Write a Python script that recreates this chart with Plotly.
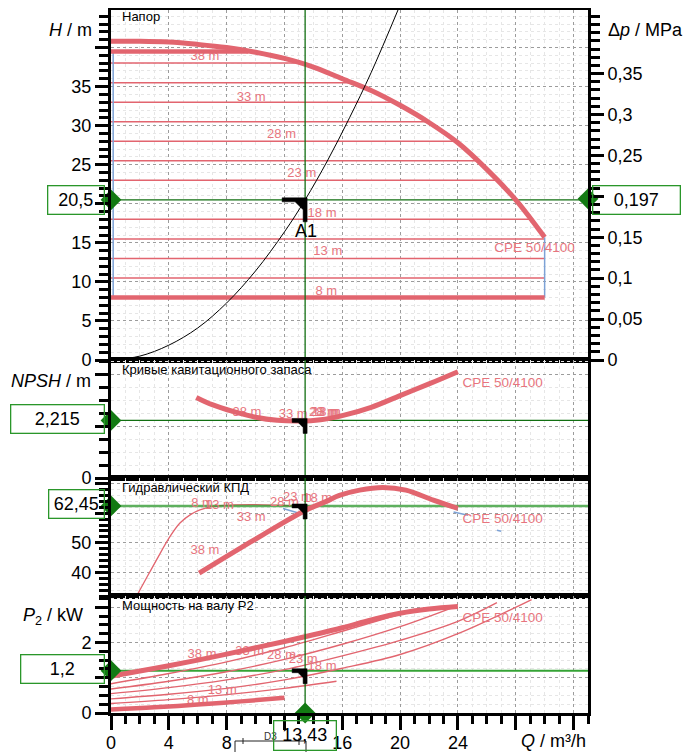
import plotly.graph_objects as go

# The page body adds an 8 px margin, so the figure is drawn 8 px smaller and
# all reference pixel positions are shifted by that offset.
PAGE_OFF = 8
FIG_W, FIG_H = 693 - PAGE_OFF, 752 - PAGE_OFF
FONT = "Arial, Liberation Sans, sans-serif"
PINK = "#e2656f"
PINK_TXT = "#e7757e"
BLUE = "#7da2d6"
GREEN_DARK = "#116f11"
GREEN_BOX = "#2a962a"

# ---------------- data ----------------
Q_OP, H_OP, DP_OP, NPSH_OP, ETA_OP, P_OP = 13.43, 20.5, 0.197, 2.215, 62.45, 1.2
MPA_PER_M = 0.009548          # Δp axis scale relative to H axis

# head: maximum curve
q_hmax = [0, 2, 4, 6, 8, 10, 12, 14, 16, 18, 20, 22, 24, 26, 28, 30]
h_hmax = [40.8, 40.8, 40.7, 40.4, 40.0, 39.4, 38.6, 37.5, 36.0, 34.5, 32.6, 30.4, 27.8, 24.4, 20.5, 15.7]
# head: upper thick constant line
h_top_line = 39.5
q_top_line_end = 9.5
# head: constant-pressure set points and where they end
h_set = [38, 35.5, 33, 30.5, 28, 25.5, 23, 18, 15.5, 13, 10.5]
q_set_end = [13.2, 16.6, 19.7, 21.9, 23.8, 25.3, 26.7, 29.0, 30, 30, 30]
h_min_line = 8
q_min_end = 30
# head labels
h_lab_text = ["38 m", "33 m", "28 m", "23 m", "18 m", "13 m", "8 m"]
h_lab_q = [6.5, 9.7, 11.8, 13.2, 14.6, 15.0, 14.9]
h_lab_h = [38.8, 33.6, 28.8, 23.8, 18.7, 13.8, 8.7]
# system curve
q_sys = [0, 2, 4, 6, 8, 10, 12, 13.43, 15, 16.5, 18, 19.9]
h_sys = [0, 0.5, 1.9, 4.1, 7.3, 11.4, 16.4, 20.5, 25.6, 31.0, 36.8, 45.0]

# NPSH
q_npsh = [5.9, 7, 8.5, 10, 11.5, 13, 14.5, 16, 18, 20, 22, 24]
npsh = [3.10, 2.82, 2.55, 2.34, 2.22, 2.19, 2.24, 2.40, 2.72, 3.17, 3.62, 4.09]
npsh_lab_text = ["38 m", "33 m", "28 m", "23 m", "18 m"]
npsh_lab_q = [9.4, 12.6, 14.7, 14.8, 14.9]
npsh_lab_v = [2.52, 2.45, 2.51, 2.51, 2.51]

# efficiency
q_eta_max = [6.1, 7.8, 10.5, 13.3, 14.9, 15.8, 17.2, 18.8, 20.4, 22.3, 24]
eta_max = [39.7, 44.8, 52.7, 60.6, 64.0, 66.0, 67.8, 68.7, 67.8, 64.4, 61.6]
q_eta_thin = [1.77, 2.5, 3.15, 4.0, 4.77, 5.5, 6.15, 7.07, 8.5, 10, 11.5, 12.5, 13.9]
eta_thin = [32, 38.5, 44.2, 51.5, 56.7, 59.5, 61.1, 62.3, 62.8, 62.9, 62.7, 62.5, 62.3]
eta_blue_segments = [([11.9, 13.2], [61.6, 59.7]), ([23.7, 24.7], [60.4, 59.3]), ([26.7, 27.0], [54.2, 53.9])]
eta_lab_text = ["38 m", "8 m", "13 m", "33 m", "28 m", "23 m", "18 m"]
eta_lab_q = [6.5, 6.3, 7.5, 9.7, 12.0, 12.9, 14.3]
eta_lab_v = [47.3, 63.1, 62.6, 58.6, 63.6, 65.3, 64.9]

# power P2
q_pmax = [0, 2, 4, 6, 8, 10, 12, 14, 16, 18, 20, 22, 24]
p_max = [1.04, 1.19, 1.34, 1.50, 1.67, 1.85, 2.03, 2.22, 2.42, 2.64, 2.83, 2.95, 3.02]
q_pmin = [0, 3, 6, 9, 12]
p_min = [0.10, 0.16, 0.24, 0.33, 0.43]
p_curves_q = [
    [0, 4, 8, 12, 16, 19.8],
    [0, 4, 8, 12, 16, 20, 23.5],
    [0, 4, 8, 12, 16, 20, 24, 26.7],
    [0, 4, 8, 12, 16, 20, 24, 29.1],
    [0, 4, 8, 12, 15.6],
]
p_curves_v = [
    [0.83, 1.12, 1.45, 1.85, 2.32, 2.78],
    [0.68, 0.90, 1.17, 1.52, 1.95, 2.45, 2.97],
    [0.55, 0.72, 0.94, 1.23, 1.62, 2.06, 2.60, 3.13],
    [0.40, 0.53, 0.70, 0.94, 1.27, 1.66, 2.25, 3.22],
    [0.27, 0.38, 0.52, 0.70, 0.90],
]
p_lab_text = ["38 m", "33 m", "28 m", "23 m", "18 m", "13 m", "8 m"]
p_lab_q = [6.3, 9.6, 11.8, 13.3, 14.6, 7.7, 6.0]
p_lab_v = [1.66, 1.75, 1.63, 1.52, 1.31, 0.62, 0.36]

# series name labels ("CPE 50/4100") per panel: (Q, value)
name_lab = {"head": (29.3, 14.3), "npsh": (27.1, 3.65), "eta": (27.1, 57.7), "p": (27.1, 2.69)}
SERIES_NAME = "CPE 50/4100"

# axis ranges / ticks
Q_RANGE = [0, 33]
H_RANGE = [0, 44.8]
NPSH_RANGE = [0, 4.54]
ETA_RANGE = [32, 71.9]
P_RANGE = [0, 3.32]
x_ticks = [0, 4, 8, 12, 16, 20, 24, 28, 32]
x_ticktext = ["0", "4", "8", "", "16", "20", "24", "", ""]
h_ticks = [0, 5, 10, 15, 20, 25, 30, 35, 40]
h_ticktext = ["0", "5", "10", "15", "", "25", "30", "35", ""]
dp_ticks = [0, 0.05, 0.1, 0.15, 0.2, 0.25, 0.3, 0.35]
dp_ticktext = ["0", "0,05", "0,1", "0,15", "", "0,25", "0,3", "0,35"]
npsh_ticks = [0, 2, 4]
npsh_ticktext = ["0", "", ""]
eta_ticks = [40, 50, 60, 70]
eta_ticktext = ["40", "50", "", ""]
p_ticks = [0, 1, 2, 3]
p_ticktext = ["0", "", "2", ""]

# ---------------- layout geometry (screen pixels of the reference) ----------------
def px(x):
    return (x - PAGE_OFF) / FIG_W


def py(y):
    return 1 - (y - PAGE_OFF) / FIG_H


X0, X1 = px(111), px(588)
PANELS = [(10, 360), (360, 478), (478, 596), (596, 713)]
DOMS = [[py(b), py(t)] for t, b in PANELS]

fig = go.Figure()


def add_line(xs, ys, xa, ya, color=PINK, width=1.4, shape="spline"):
    fig.add_trace(go.Scatter(x=xs, y=ys, xaxis=xa, yaxis=ya, mode="lines",
                             line=dict(color=color, width=width, shape=shape),
                             hoverinfo="skip", showlegend=False))


def add_text(xs, ys, texts, xa, ya, size=13, color=PINK_TXT):
    fig.add_trace(go.Scatter(x=xs, y=ys, xaxis=xa, yaxis=ya, mode="text", text=texts,
                             textfont=dict(size=size, color=color, family=FONT),
                             textposition="middle center", hoverinfo="skip",
                             showlegend=False, cliponaxis=False))


def add_diamond(xs, ys, xa, ya):
    fig.add_trace(go.Scatter(x=xs, y=ys, xaxis=xa, yaxis=ya, mode="markers",
                             marker=dict(symbol="diamond", size=16, color="#137a13"),
                             cliponaxis=False, hoverinfo="skip", showlegend=False))


# ---------- Panel 1: head ----------
add_line(Q_RANGE, [H_OP, H_OP], "x", "y", GREEN_DARK, 1.3, "linear")
for hs, qe in zip(h_set, q_set_end):
    add_line([0, qe], [hs, hs], "x", "y", PINK, 1.5, "linear")
add_line([0.15, 0.15], [h_min_line, h_top_line], "x", "y", BLUE, 1.5, "linear")
add_line([q_min_end, q_min_end], [h_min_line, h_hmax[-1]], "x", "y", BLUE, 1.5, "linear")
add_text(h_lab_q, h_lab_h, h_lab_text, "x", "y")
add_text([name_lab["head"][0]], [name_lab["head"][1]], [SERIES_NAME], "x", "y", 13.5)
add_line([0, q_top_line_end], [h_top_line, h_top_line], "x", "y", PINK, 4.5, "linear")
add_line(q_hmax, h_hmax, "x", "y", PINK, 5)
add_line([0, q_min_end], [h_min_line, h_min_line], "x", "y", PINK, 4.5, "linear")
add_line(q_sys, h_sys, "x", "y", "black", 1, "spline")
add_line([Q_OP, Q_OP], H_RANGE, "x", "y", GREEN_DARK, 1.3, "linear")
add_diamond([0], [H_OP], "x", "y")
add_diamond([Q_RANGE[1]], [DP_OP], "x", "y2")

# ---------- Panel 2: NPSH ----------
add_line(Q_RANGE, [NPSH_OP, NPSH_OP], "x2", "y3", GREEN_DARK, 1.3, "linear")
add_text(npsh_lab_q, npsh_lab_v, npsh_lab_text, "x2", "y3")
add_line(q_npsh, npsh, "x2", "y3", PINK, 5)
add_text([name_lab["npsh"][0]], [name_lab["npsh"][1]], [SERIES_NAME], "x2", "y3", 13.5)
add_line([Q_OP, Q_OP], NPSH_RANGE, "x2", "y3", GREEN_DARK, 1.3, "linear")
add_diamond([0], [NPSH_OP], "x2", "y3")

# ---------- Panel 3: efficiency ----------
add_line(q_eta_thin, eta_thin, "x3", "y4", PINK, 1.3)
add_line(Q_RANGE, [ETA_OP, ETA_OP], "x3", "y4", "rgba(40,150,40,0.75)", 2.5, "linear")
for bq, bv in eta_blue_segments:
    add_line(bq, bv, "x3", "y4", BLUE, 1.5, "linear")
add_text(eta_lab_q, eta_lab_v, eta_lab_text, "x3", "y4")
add_line(q_eta_max, eta_max, "x3", "y4", PINK, 5)
add_text([name_lab["eta"][0]], [name_lab["eta"][1]], [SERIES_NAME], "x3", "y4", 13.5)
add_line([Q_OP, Q_OP], ETA_RANGE, "x3", "y4", GREEN_DARK, 1.3, "linear")
add_diamond([0], [ETA_OP], "x3", "y4")

# ---------- Panel 4: power ----------
add_line(Q_RANGE, [P_OP, P_OP], "x4", "y5", "#35a335", 2, "linear")
for cq, cv in zip(p_curves_q, p_curves_v):
    add_line(cq, cv, "x4", "y5", PINK, 1.4)
add_text(p_lab_q, p_lab_v, p_lab_text, "x4", "y5")
add_line(q_pmax, p_max, "x4", "y5", PINK, 5)
add_line(q_pmin, p_min, "x4", "y5", PINK, 4.5)
add_text([name_lab["p"][0]], [name_lab["p"][1]], [SERIES_NAME], "x4", "y5", 13.5)
add_line([Q_OP, Q_OP], P_RANGE, "x4", "y5", GREEN_DARK, 1.3, "linear")
add_diamond([0, Q_OP], [P_OP, 0], "x4", "y5")

# ---------------- axes ----------------
TICKFONT = dict(size=18, color="black", family=FONT)


def xaxis(anchor, show):
    d = dict(range=Q_RANGE, domain=[X0, X1], anchor=anchor, automargin=False,
             showgrid=True, gridcolor="#9c9c9c", griddash="dot", gridwidth=1,
             tickmode="array", tickvals=x_ticks, ticktext=x_ticktext,
             showline=True, linecolor="black", linewidth=3, mirror=True, zeroline=False,
             tickfont=TICKFONT,
             minor=dict(tickmode="linear", tick0=0, dtick=1, showgrid=True,
                        gridcolor="#e6e6e6", gridwidth=1,
                        ticks="outside" if show else "", ticklen=8, tickwidth=3, tickcolor="black"))
    if show:
        d.update(ticks="outside", ticklen=14, tickwidth=3, tickcolor="black", showticklabels=True,
                 ticklabelstandoff=-3)
    else:
        d.update(ticks="", showticklabels=False)
    return d


def yaxis(rng, dom, tv, tt, mdt, anchor):
    return dict(range=rng, domain=dom, anchor=anchor, automargin=False,
                showgrid=True, gridcolor="#9c9c9c", griddash="dot", gridwidth=1,
                tickmode="array", tickvals=tv, ticktext=tt,
                showline=True, linecolor="black", linewidth=3, mirror=True, zeroline=False,
                ticks="outside", ticklen=13, tickwidth=3, tickcolor="black", tickfont=TICKFONT,
                minor=dict(tickmode="linear", tick0=rng[0], dtick=mdt, showgrid=True,
                           gridcolor="#e6e6e6", gridwidth=1,
                           ticks="outside", ticklen=9, tickwidth=3, tickcolor="black"))


fig.update_layout(
    template="none",
    width=FIG_W, height=FIG_H,
    margin=dict(l=0, r=0, t=0, b=0, pad=0),
    paper_bgcolor="white", plot_bgcolor="white",
    showlegend=False,
    font=dict(family=FONT, color="black"),
    xaxis=xaxis("y", False),
    xaxis2=xaxis("y3", False),
    xaxis3=xaxis("y4", False),
    xaxis4=xaxis("y5", True),
    yaxis=yaxis(H_RANGE, DOMS[0], h_ticks, h_ticktext, 1, "x"),
    yaxis3=yaxis(NPSH_RANGE, DOMS[1], npsh_ticks, npsh_ticktext, 0.5, "x2"),
    yaxis4=yaxis(ETA_RANGE, DOMS[2], eta_ticks, eta_ticktext, 2, "x3"),
    yaxis5=yaxis(P_RANGE, DOMS[3], p_ticks, p_ticktext, 0.25, "x4"),
    yaxis2=dict(range=[H_RANGE[0] * MPA_PER_M, H_RANGE[1] * MPA_PER_M], overlaying="y", side="right",
                anchor="x", automargin=False, showgrid=False, zeroline=False, showline=True,
                linecolor="black", linewidth=3,
                tickmode="array", tickvals=dp_ticks, ticktext=dp_ticktext,
                ticks="outside", ticklen=13, tickwidth=3, tickcolor="black", tickfont=TICKFONT,
                minor=dict(tickmode="linear", tick0=0, dtick=0.01, showgrid=False,
                           ticks="outside", ticklen=9, tickwidth=3, tickcolor="black")),
)

# ---------------- operating point markers (pixel-sized) ----------------
BIG = "M-23,2 L2,2 L2,-22 L-2,-22 L-2,-10 L-10,-2 L-23,-2 Z"
SMALL = "M-13,2 L2,2 L2,-13 L-2,-13 L-2,-7 L-7,-2 L-13,-2 Z"
for xr, yr, yv, path in [("x", "y", H_OP, BIG), ("x2", "y3", NPSH_OP, SMALL),
                         ("x3", "y4", ETA_OP, SMALL), ("x4", "y5", P_OP, SMALL)]:
    fig.add_shape(type="path", xref=xr, yref=yr, xsizemode="pixel", ysizemode="pixel",
                  xanchor=Q_OP, yanchor=yv, path=path, fillcolor="black",
                  line=dict(color="black", width=0.5), layer="above")

# D3 bracket decoration near x axis
for x0, y0, x1, y1 in [(235, 741, 306, 741), (235, 741, 235, 752), (306, 741, 306, 752),
                       (243, 738, 243, 744), (299, 738, 299, 745)]:
    fig.add_shape(type="line", xref="paper", yref="paper", x0=px(x0), y0=py(y0), x1=px(x1), y1=py(y1),
                  line=dict(color="#222", width=1))

# ---------------- annotations ----------------
ann = []


def txt(text, x, y, size, xanchor="center", color="black"):
    ann.append(dict(text=text, x=px(x), y=py(y), xref="paper", yref="paper", showarrow=False,
                    xanchor=xanchor, yanchor="middle", font=dict(size=size, color=color, family=FONT)))


txt("<i>H</i> / m", 70, 30, 18)
txt("Δ<i>p</i> / MPa", 645, 30, 18)
txt("<i>NPSH</i> / m", 51, 381, 18)
txt("<i>P</i><sub>2</sub> / kW", 53, 616, 18)
txt("<i>Q</i> / m³/h", 553, 741, 18)
txt("Напор", 120, 17, 13, "left")
txt("Кривые кавитационного запаса", 120, 369, 13, "left")
txt("Гидравлический КПД", 120, 487, 13, "left")
txt("Мощность на валу P2", 120, 605, 13, "left")
txt("D3", 270, 736, 10, "center", "#333")

ann.append(dict(text="A1", x=Q_OP, y=H_OP, xref="x", yref="y", showarrow=False,
                yshift=-31, xshift=1, font=dict(size=18, color="black", family=FONT)))

BOXES = [("20,5", 47, 185, 58, 30), ("0,197", 592, 185, 89, 30), ("2,215", 10, 404, 95, 30),
         ("62,45", 48, 489, 57, 30), ("1,2", 20, 654, 85, 30), ("13,43", 273, 720, 64, 31)]
for t, bx, by, bw, bh in BOXES:
    ann.append(dict(text=t, x=px(bx), y=py(by), xref="paper", yref="paper", showarrow=False,
                    xanchor="left", yanchor="top", width=bw - 3, height=bh - 3, align="center",
                    valign="middle", bordercolor=GREEN_BOX, borderwidth=1.3, borderpad=0,
                    bgcolor="rgba(255,255,255,0)",
                    font=dict(size=18, color="black", family=FONT)))

fig.update_layout(annotations=ann)
fig.write_html("out.html")
